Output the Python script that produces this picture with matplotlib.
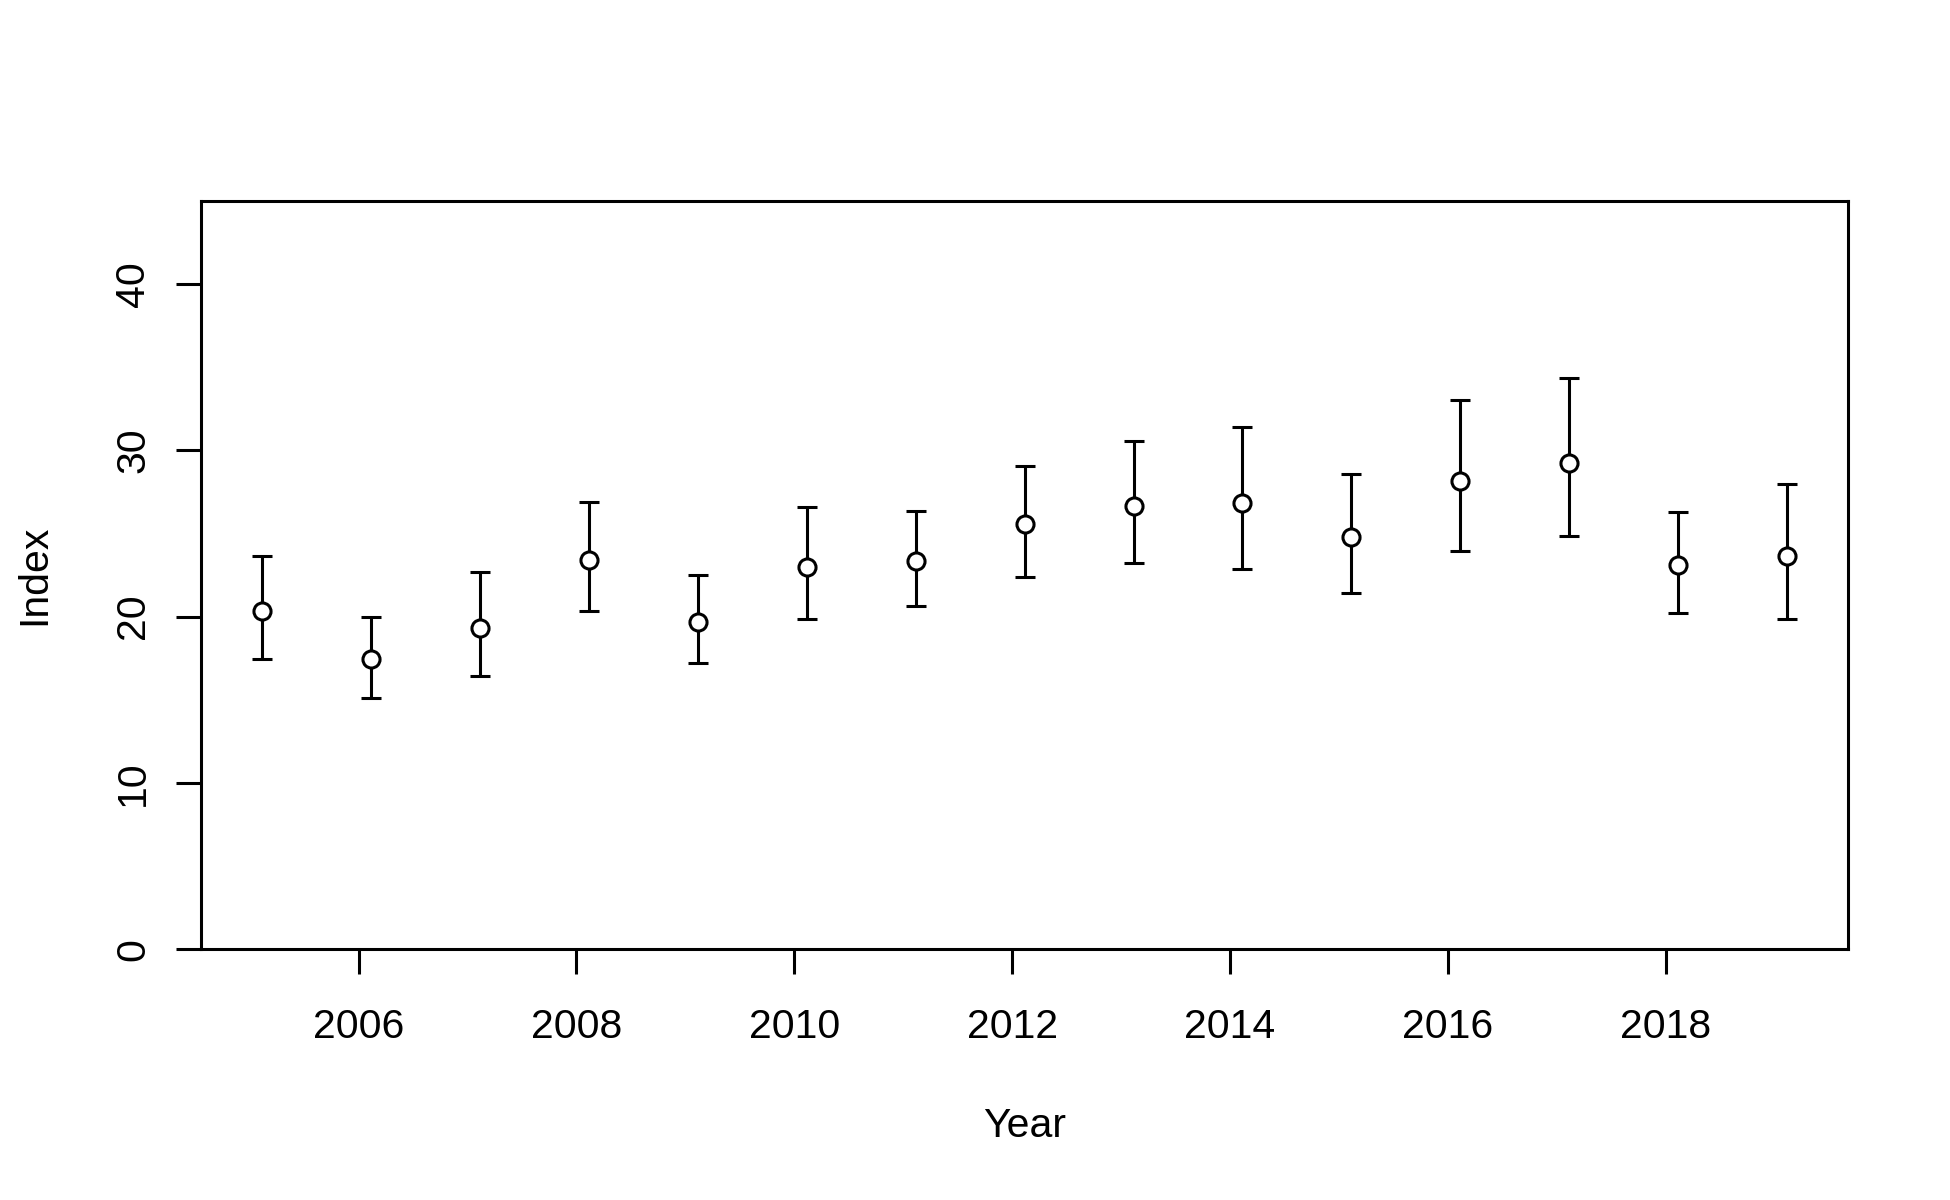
import matplotlib
matplotlib.use("Agg")
import matplotlib.pyplot as plt

plt.rcParams['font.family'] = ['Liberation Sans', 'DejaVu Sans']

# values
years = [2005, 2006, 2007, 2008, 2009, 2010, 2011, 2012,
         2013, 2014, 2015, 2016, 2017, 2018, 2019]
index = [20.34, 17.42, 19.34, 23.38, 19.68, 22.98, 23.34, 25.56,
         26.64, 26.82, 24.78, 28.14, 29.23, 23.10, 23.64]
upper = [23.64, 20.00, 22.70, 26.88, 22.52, 26.56, 26.37, 29.07,
         30.57, 31.41, 28.56, 33.01, 34.35, 26.28, 27.96]
lower = [17.42, 15.08, 16.41, 20.32, 17.18, 19.84, 20.66, 22.40,
         23.20, 22.88, 21.44, 23.96, 24.82, 20.24, 19.88]
x_ticks = [2006, 2008, 2010, 2012, 2014, 2016, 2018]
y_ticks = [0, 10, 20, 30, 40]

x_offset = 0.115
xs = [y + x_offset for y in years]
err_lo = [m - l for m, l in zip(index, lower)]
err_hi = [u - m for m, u in zip(index, upper)]

fig = plt.figure(figsize=(19.5, 12), dpi=100)
ax = fig.add_axes([0.1032, 0.2089, 0.9477 - 0.1032, 0.8329 - 0.2089])

lw = 2.2
ax.errorbar(xs, index, yerr=[err_lo, err_hi], fmt='none', ecolor='black',
            elinewidth=lw, capsize=7.4, capthick=lw, zorder=2)
ax.plot(xs, index, linestyle='none', marker='o', markersize=12.3,
        markerfacecolor='white', markeredgecolor='black',
        markeredgewidth=lw, zorder=3)

ax.margins(x=0.04)
ax.set_ylim(0, 45)
ax.set_xticks(x_ticks)
ax.set_yticks(y_ticks)

for s in ax.spines.values():
    s.set_linewidth(lw)

ax.tick_params(axis='both', direction='out', length=17.7, width=lw,
               labelsize=29.5, colors='black')
ax.tick_params(axis='x', pad=24.3)
ax.tick_params(axis='y', pad=17.7)
for lab in ax.get_yticklabels():
    lab.set_rotation(90)
    lab.set_va('center')

ax.set_xlabel('Year', fontsize=29.5)
ax.set_ylabel('Index', fontsize=29.5)
ax.xaxis.set_label_coords(0.5, -0.2106)
ax.yaxis.set_label_coords(-0.0898, 0.5)

fig.savefig('out.png', dpi=100)
